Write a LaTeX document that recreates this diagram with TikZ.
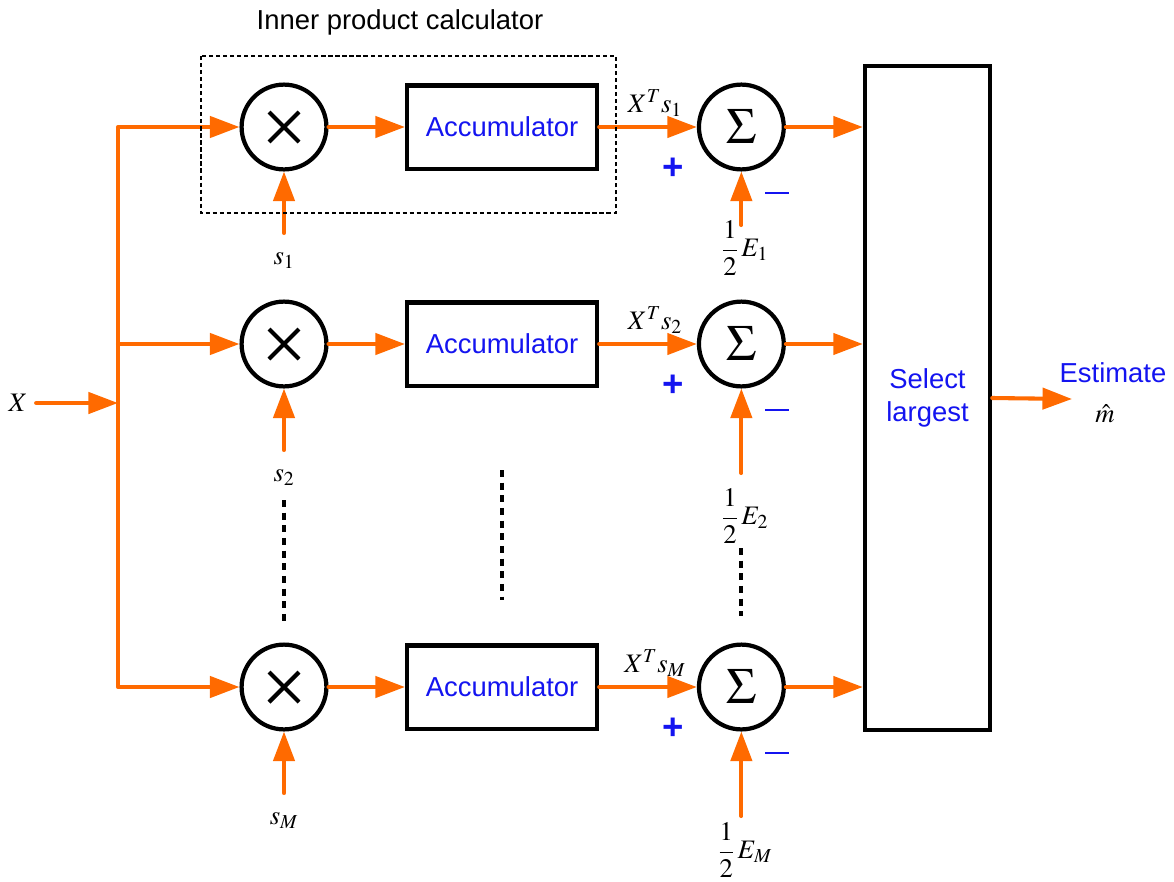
\documentclass[tikz,border=0pt]{standalone}
\usepackage{amsmath}
\usepackage{mathptmx}
\usepackage[no-math]{fontspec}
\setmainfont{Liberation Sans}
\usepackage{tikz}
\usetikzlibrary{arrows.meta,positioning,calc}
\definecolor{corFlow}{HTML}{FF6A00}
\definecolor{corText}{HTML}{1414F0}
\tikzset{
  cor/.style={draw=black,line width=3pt,fill=white,align=center,
              font=\fontsize{19.5}{23}\selectfont,text=corText},
  coracc/.style={cor,minimum width=4.75cm,minimum height=2.08cm},
  cormul/.style={cor,circle,minimum size=2.12cm,inner sep=0pt},
  corsum/.style={cormul,text=black,font=\fontsize{36}{40}\selectfont},
  corsel/.style={cor,minimum width=3.13cm,minimum height=16.6cm},
  corflow/.style={-{Triangle[length=21pt,width=15pt]},draw=corFlow,line width=2.9pt,line cap=round},
  corbus/.style={draw=corFlow,line width=2.9pt},
  cormath/.style={font=\fontsize{19}{23}\selectfont,inner sep=1pt},
  corsign/.style={text=corText,font=\fontsize{26}{28}\selectfont\bfseries,inner sep=0pt},
  cordots/.style={draw=black,line width=3pt,dash pattern=on 5pt off 4pt},
  corgroup/.style={draw=black,line width=1.5pt,dash pattern=on 3pt off 2pt},
}

\begin{document}
\begin{tikzpicture}[x=0.025cm,y=-0.025cm]
  \useasboundingbox (0,0) rectangle (1174,881);

  % decision block and output
  \node[corsel] (sel) at (927.5,398) {Select\\largest};
  \coordinate (est) at (1072,399);
  \draw[corflow] (sel.east) -- (est);
  \node[font=\fontsize{19.5}{23}\selectfont,text=corText,inner sep=0pt] (estlbl) at (1113,373) {Estimate};
  \node[cormath,inner sep=0pt] (mhat) at (1105,414) {$\hat{m}$};

  % received signal and the bus feeding all branches
  \node[cormath] (xin) at (18,403) {$X$};
  \coordinate (busX) at (118,403);
  \coordinate (bus1) at (118,127);
  \coordinate (bus3) at (118,687);
  \draw[corflow,shorten <=5pt] (xin.east) -- (busX);
  \draw[corbus] (bus1) -- (bus3);

  % one correlator per row: \i row, \y height, \k index, \e label drop, \f input length
  \foreach \i/\y/\k/\e/\f in {1/127/1/121/98,2/344/2/172/129,3/687/M/163/129}{
    \node[cormul] (mul\i) at (284,\y) {};
    \draw[line width=3pt] ($(mul\i)+(-15,-15)$) -- ($(mul\i)+(15,15)$)
                          ($(mul\i)+(-15,15)$) -- ($(mul\i)+(15,-15)$);
    \node[coracc,right=1.91cm of mul\i] (acc\i) {Accumulator};
    \node[corsum,right=2.44cm of acc\i] (sum\i) {$\Sigma$};

    \coordinate (bus\i) at (118,\y);
    \coordinate (s\i) at ($(mul\i)+(0,106)$);
    \coordinate (e\i) at ($(sum\i)+(0,\f)$);
    \draw[corflow] (bus\i) -- (mul\i);
    \draw[corflow] (s\i) -- (mul\i);
    \draw[corflow] (mul\i) -- (acc\i);
    \draw[corflow] (acc\i) -- (sum\i);
    \draw[corflow] (e\i) -- (sum\i);
    \draw[corflow] (sum\i) -- (sum\i -| sel.west);

    \node[cormath] (slbl\i) at (284,\y+134) {$s_{\k}$};
    \node[cormath] (xs\i) at (655,\y-24) {$X^{T}s_{\k}$};
    \node[cormath] (elbl\i) at (745,\y+\e) {$\dfrac{1}{2}\,E_{\k}$};
    \node[corsign] (plus\i) at (673,\y+42) {+};
    \node[corsign] (minus\i) at (777,\y+66) {\rule{0.6cm}{2pt}};
  }

  % vertical ellipses between row 2 and row M
  \draw[cordots] (284,500) -- (284,622);
  \draw[cordots] (502,470) -- (502,600);
  \draw[cordots] (741,548) -- (741,616);

  % first correlator grouped as the inner product block
  \draw[corgroup] (201,56) rectangle (616,213);
  \node[font=\fontsize{19.5}{23}\selectfont] (ipc) at (400,22) {Inner product calculator};
\end{tikzpicture}
\end{document}
